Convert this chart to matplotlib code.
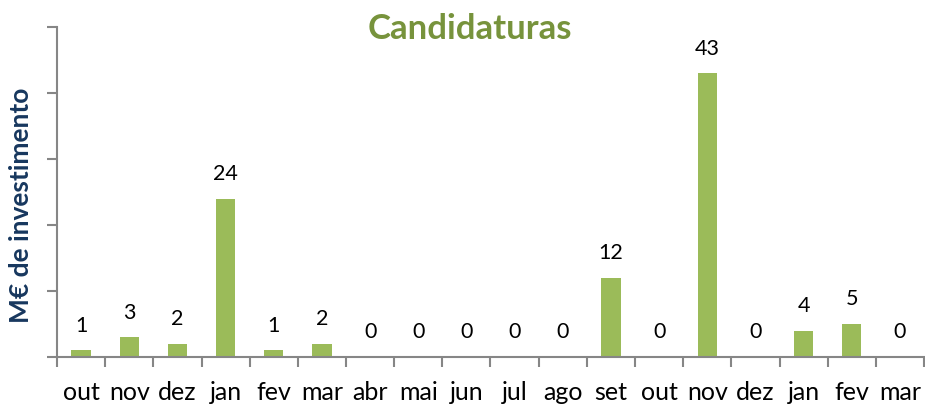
import matplotlib.pyplot as plt
import numpy as np

months = ["out", "nov", "dez", "jan", "fev", "mar", "abr", "mai", "jun",
          "jul", "ago", "set", "out", "nov", "dez", "jan", "fev", "mar"]
values = [1, 3, 2, 24, 1, 2, 0, 0, 0, 0, 0, 12, 0, 43, 0, 4, 5, 0]

bar_color = "#9BBB59"
axis_color = "#868686"

plt.rcParams['font.family'] = ['Lato', 'DejaVu Sans']

fig = plt.figure(figsize=(9.25, 4.07), dpi=100)
ax = fig.add_axes([57 / 925, 1 - 357 / 407, 867 / 925, 330 / 407])

x = np.arange(len(months))
ax.bar(x, values, width=0.4, color=bar_color, zorder=2)

# data labels above bars
for xi, v in zip(x, values):
    ax.text(xi, v + 2.2, str(v), ha="center", va="bottom", fontsize=15.5, color="black")

ax.set_xlim(-0.5, len(months) - 0.5)
ax.set_ylim(0, 50)

ax.set_xticks(x)
ax.set_xticklabels(months, fontsize=18)
ax.tick_params(axis="x", which="major", length=0, pad=17)
ax.set_xticks(np.arange(len(months) + 1) - 0.5, minor=True)
ax.tick_params(axis="x", which="minor", length=7, width=1.5, color=axis_color, direction="out")

ax.set_yticks(np.arange(0, 51, 10))
ax.set_yticklabels([])
ax.tick_params(axis="y", length=7, width=1.5, color=axis_color, direction="out")

for side in ["top", "right"]:
    ax.spines[side].set_visible(False)
for side in ["left", "bottom"]:
    ax.spines[side].set_color(axis_color)
    ax.spines[side].set_linewidth(1.5)

fig.text(21 / 925, 1 - 205 / 407, "M€ de investimento", rotation=90, ha="center", va="center",
         fontsize=19, fontweight="bold", color="#17375E")
fig.text(470 / 925, 1 - 29 / 407, "Candidaturas", ha="center", va="center",
         fontsize=25, fontweight="bold", color="#77933C")

fig.savefig("out.png", dpi=100)
